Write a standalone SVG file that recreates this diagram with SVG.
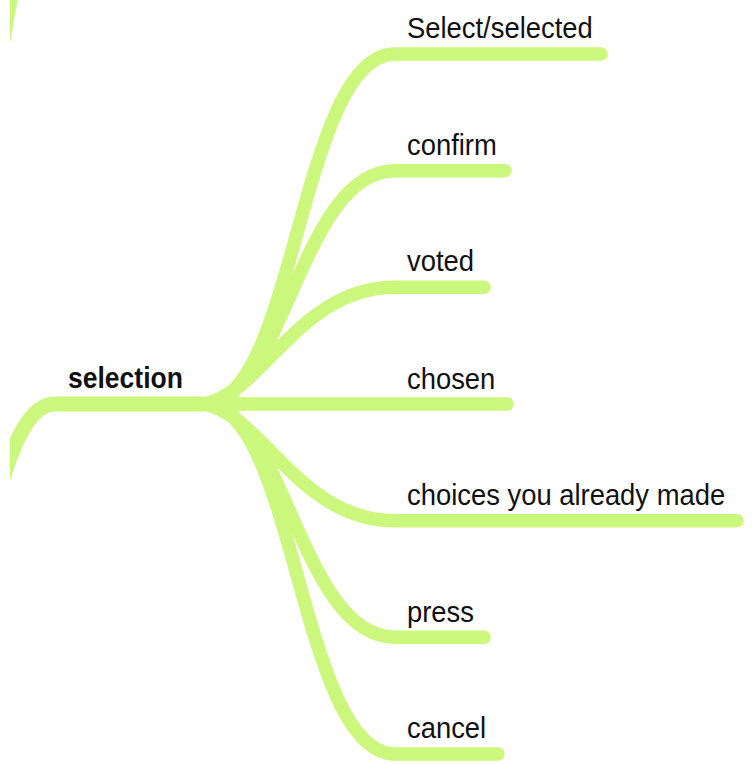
<svg xmlns="http://www.w3.org/2000/svg" width="755" height="764" viewBox="0 0 755 764">
  <defs>
    <clipPath id="crop"><rect x="10" y="0" width="745" height="764"/></clipPath>
    <style>
      .br { fill: none; stroke: #CBF87C; stroke-linecap: round; stroke-linejoin: round; }
      .child { stroke-width: 13.5; }
      .main { stroke-width: 15; stroke-linecap: butt; }
      .lbl { font-family: "Liberation Sans", Arial, Helvetica, sans-serif; font-size: 27.4px; fill: #111111; }
      .root { font-weight: bold; font-size: 26.5px; }
    </style>
  </defs>
  <rect x="0" y="0" width="755" height="764" fill="#ffffff"/>
  <g id="connectors" clip-path="url(#crop)">
    <path class="br main" d="M-135,975 C-40,975 -40,404 55,404 L212,404"/>
    <path class="br main" d="M-135,975 C-40,975 -40,-100 55,-100"/>
    <path class="br child" d="M205,404 C295,404 300,54 395,54 L601,54"/>
    <path class="br child" d="M205,404 C285,400 300,170.7 395,170.7 L505,170.7"/>
    <path class="br child" d="M205,404 C265,390 300,287.3 395,287.3 L484,287.3"/>
    <path class="br child" d="M205,404 L507,404"/>
    <path class="br child" d="M205,404 C265,418 300,520.7 395,520.7 L737,520.7"/>
    <path class="br child" d="M205,404 C285,408 300,637.3 395,637.3 L484,637.3"/>
    <path class="br child" d="M205,404 C295,404 300,754 395,754 L498,754"/>
  </g>
  <g id="node-selection"><text class="lbl root" transform="translate(68,388) scale(1,1.08)">selection</text></g>
  <g id="node-select"><text class="lbl" transform="translate(407,38) scale(1,1.08)">Select/selected</text></g>
  <g id="node-confirm"><text class="lbl" transform="translate(407,155) scale(1,1.08)">confirm</text></g>
  <g id="node-voted"><text class="lbl" transform="translate(407,271) scale(1,1.08)">voted</text></g>
  <g id="node-chosen"><text class="lbl" transform="translate(407,389) scale(1,1.08)">chosen</text></g>
  <g id="node-choices"><text class="lbl" transform="translate(407,505) scale(1,1.08)">choices you already made</text></g>
  <g id="node-press"><text class="lbl" transform="translate(407,622) scale(1,1.08)">press</text></g>
  <g id="node-cancel"><text class="lbl" transform="translate(407,738) scale(1,1.08)">cancel</text></g>
</svg>
